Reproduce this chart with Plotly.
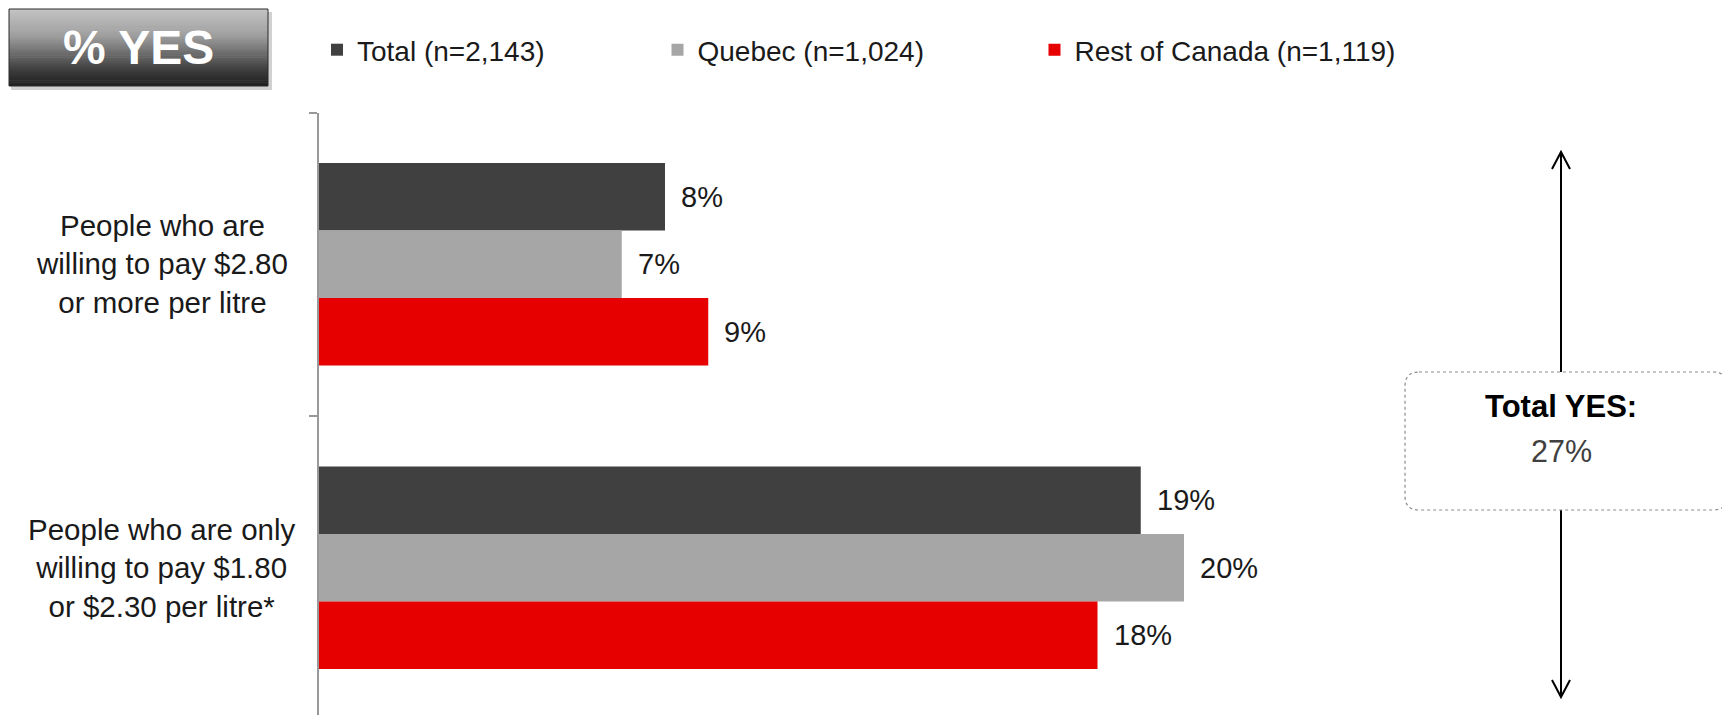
import plotly.graph_objects as go

# ---------------- data ----------------
categories = [
    "People who are<br>willing to pay $2.80<br>or more per litre",
    "People who are only<br>willing to pay $1.80<br>or $2.30 per litre*",
]
series_names = ["Total (n=2,143)", "Quebec (n=1,024)", "Rest of Canada (n=1,119)"]
total_vals = [8, 19]
quebec_vals = [7, 20]
roc_vals = [9, 18]
series_colors = ["#404040", "#a6a6a6", "#e60000"]
total_yes = 27
title_text = "% YES"
box_title = "Total YES:"

# ---------------- geometry helpers (page pixel -> paper; page has an 8px body margin) ----------------
W, H = 1730, 715
OFF = 8
def X(px):
    return (px - OFF) / W
def Y(py):
    return 1 - (py - OFF) / H

FONT = "Liberation Sans, Arial, Helvetica, sans-serif"
BARGAP = 0.333
PX_PER_PCT = 43.25
x_left, x_right = 319, 1384
plot_top = 112.5
cat_px = 303.5
dom_h = H - (plot_top - OFF)

fig = go.Figure()
all_vals = [total_vals, quebec_vals, roc_vals]
legend_ids = ["legend", "legend2", "legend3"]
for name, vals, col, lg in zip(series_names, all_vals, series_colors, legend_ids):
    fig.add_trace(go.Bar(
        y=categories, x=vals, name=name, orientation="h",
        marker=dict(color=col, line=dict(width=0)),
        legend=lg, hoverinfo="x+name",
    ))

# value labels (annotations placed with the axes' scales)
bw = (1 - BARGAP) / 3
annotations = []
for si, vals in enumerate(all_vals):
    for ci, v in enumerate(vals):
        annotations.append(dict(
            x=v, y=ci + (si - 1) * bw, xref="x", yref="y",
            text=f"{v}%", showarrow=False, xanchor="left", yanchor="middle",
            xshift=14, font=dict(family=FONT, size=29, color="#1a1a1a"),
        ))

# category labels
for ci, cat in enumerate(categories):
    annotations.append(dict(
        x=X(162), y=ci, xref="paper", yref="y", text=cat, showarrow=False,
        xanchor="center", yanchor="middle", align="center",
        font=dict(family=FONT, size=29.5, color="#1a1a1a"),
    ))

# "% YES" title box text
annotations.append(dict(
    x=X(138.5), y=Y(48), xref="paper", yref="paper", text=title_text,
    showarrow=False, xanchor="center", yanchor="middle",
    font=dict(family=FONT, size=48, color="white", weight="bold"),
))

# Total YES box text
annotations.append(dict(
    x=X(1561), y=Y(407), xref="paper", yref="paper", text=box_title,
    showarrow=False, xanchor="center", yanchor="middle",
    font=dict(family=FONT, size=31, color="#000000", weight="bold"),
))
annotations.append(dict(
    x=X(1561), y=Y(451), xref="paper", yref="paper", text=f"{total_yes}%",
    showarrow=False, xanchor="center", yanchor="middle",
    font=dict(family=FONT, size=30.5, color="#404040"),
))

shapes = []
# title box shadow
shapes.append(dict(type="rect", xref="paper", yref="paper",
                   x0=X(11), x1=X(272), y0=Y(12), y1=Y(90),
                   fillcolor="rgba(0,0,0,0.18)", line=dict(width=0), layer="above"))
# title box gradient strips
stops = [(0.0, (0xc4, 0xc4, 0xc4)), (0.35, (0x9e, 0x9e, 0x9e)), (0.55, (0x72, 0x72, 0x72)),
         (0.78, (0x40, 0x40, 0x40)), (1.0, (0x1e, 0x1e, 0x1e))]
def grad(t):
    for (t0, c0), (t1, c1) in zip(stops[:-1], stops[1:]):
        if t <= t1:
            f = (t - t0) / (t1 - t0)
            return "rgb(%d,%d,%d)" % tuple(round(a + (b - a) * f) for a, b in zip(c0, c1))
    return "rgb(30,30,30)"
bx0, bx1, by0, by1 = 9, 268, 9, 86
N = 40
for i in range(N):
    ya = by0 + (by1 - by0) * i / N
    yb = by0 + (by1 - by0) * (i + 1) / N + 0.6
    shapes.append(dict(type="rect", xref="paper", yref="paper",
                       x0=X(bx0), x1=X(bx1), y0=Y(ya), y1=Y(min(yb, by1)),
                       fillcolor=grad((i + 0.5) / N), line=dict(width=0), layer="above"))
shapes.append(dict(type="rect", xref="paper", yref="paper",
                   x0=X(bx0), x1=X(bx1), y0=Y(by0), y1=Y(by1),
                   fillcolor="rgba(0,0,0,0)", line=dict(width=1, color="#2a2a2a"), layer="above"))

# double-headed arrow
ax = 1561
shapes.append(dict(type="line", xref="paper", yref="paper",
                   x0=X(ax), x1=X(ax), y0=Y(153), y1=Y(696),
                   line=dict(color="black", width=2)))
shapes.append(dict(type="path", xref="paper", yref="paper",
                   path=f"M{X(ax-9)},{Y(169)} L{X(ax)},{Y(152)} L{X(ax+9)},{Y(169)}",
                   line=dict(color="black", width=2)))
shapes.append(dict(type="path", xref="paper", yref="paper",
                   path=f"M{X(ax-9)},{Y(680)} L{X(ax)},{Y(697)} L{X(ax+9)},{Y(680)}",
                   line=dict(color="black", width=2)))
# rounded dotted box
rx0, rx1, ry0, ry1, r = 1405, 1727, 372, 510, 14
p = (f"M{X(rx0+r)},{Y(ry0)} L{X(rx1-r)},{Y(ry0)} Q{X(rx1)},{Y(ry0)} {X(rx1)},{Y(ry0+r)} "
     f"L{X(rx1)},{Y(ry1-r)} Q{X(rx1)},{Y(ry1)} {X(rx1-r)},{Y(ry1)} "
     f"L{X(rx0+r)},{Y(ry1)} Q{X(rx0)},{Y(ry1)} {X(rx0)},{Y(ry1-r)} "
     f"L{X(rx0)},{Y(ry0+r)} Q{X(rx0)},{Y(ry0)} {X(rx0+r)},{Y(ry0)} Z")
shapes.append(dict(type="path", xref="paper", yref="paper", path=p,
                   fillcolor="white", line=dict(color="#8c8c8c", width=1.2, dash="dot")))

def legend_cfg(px_center):
    return dict(x=X(px_center - 20), y=Y(50), xref="paper", yref="paper",
                xanchor="left", yanchor="middle", orientation="h",
                font=dict(family=FONT, size=28, color="#1a1a1a"),
                bgcolor="rgba(0,0,0,0)", borderwidth=0)

fig.update_layout(
    width=W, height=H,
    margin=dict(l=0, r=0, t=0, b=0, autoexpand=False),
    paper_bgcolor="white", plot_bgcolor="white",
    barmode="group", bargap=BARGAP, bargroupgap=0,
    font=dict(family=FONT, size=28, color="#1a1a1a"),
    xaxis=dict(domain=[X(x_left), X(x_right)],
               range=[0, (x_right - x_left) / PX_PER_PCT],
               visible=False, fixedrange=True),
    yaxis=dict(domain=[0, Y(plot_top)], type="category",
               range=[-0.5 + dom_h / cat_px, -0.5],
               showline=True, linecolor="#999999", linewidth=1.5,
               ticks="outside", tickson="boundaries", ticklen=8, tickcolor="#999999",
               tickwidth=1.5, showticklabels=False, showgrid=False, zeroline=False,
               fixedrange=True),
    legend=legend_cfg(337),
    legend2=legend_cfg(677.5),
    legend3=legend_cfg(1054.5),
    annotations=annotations,
    shapes=shapes,
    showlegend=True,
)

fig.write_html("out.html")
